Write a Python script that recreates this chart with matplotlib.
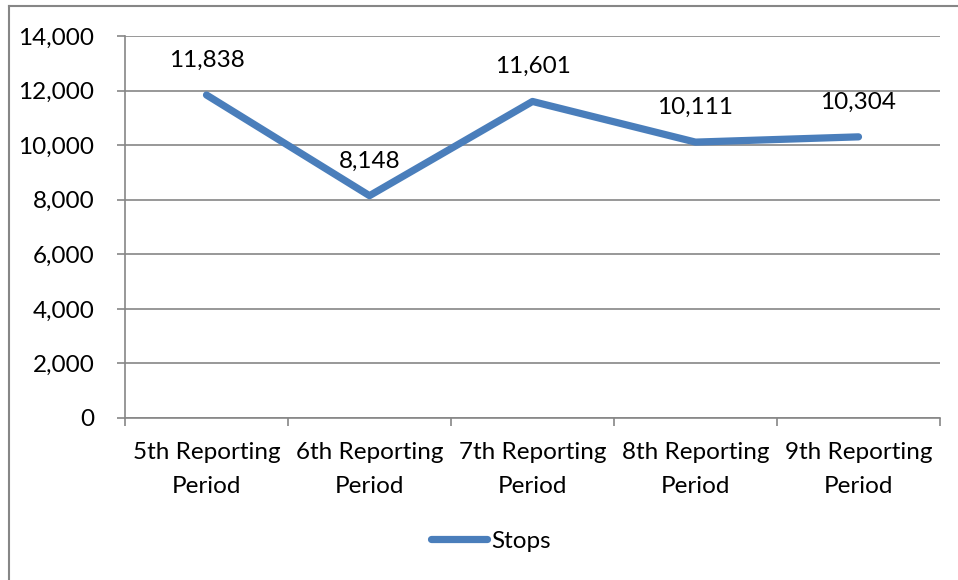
import matplotlib.pyplot as plt
from matplotlib.lines import Line2D
from matplotlib.ticker import FuncFormatter

categories = ["5th Reporting\nPeriod", "6th Reporting\nPeriod", "7th Reporting\nPeriod",
              "8th Reporting\nPeriod", "9th Reporting\nPeriod"]
stops = [11838, 8148, 11601, 10111, 10304]

W, H = 958, 580
blue = "#4A7EBB"
grey = "#868686"
fs = 17.5

plt.rcParams['font.family'] = ['Lato', 'DejaVu Sans']

fig = plt.figure(figsize=(W / 100, H / 100), dpi=100)
# plot area in pixel coords: x 125..940, y 36..418
ax = fig.add_axes([125 / W, 1 - 418 / H, (940 - 125) / W, (418 - 36) / H])

x = list(range(len(categories)))
ax.plot(x, stops, color=blue, lw=5.2, solid_capstyle='round', solid_joinstyle='round',
        label="Stops", zorder=3)
for xi, v in zip(x, stops):
    ax.annotate(f"{v:,}", (xi, v), xytext=(0, 25), textcoords='offset points',
                ha='center', va='center', fontsize=fs, color='black')

ax.set_xlim(-0.5, len(categories) - 0.5)
ax.set_ylim(0, 14000)
ax.set_yticks(range(0, 14001, 2000))
ax.yaxis.set_major_formatter(FuncFormatter(lambda v, p: f"{int(v):,}"))
ax.set_xticks([i - 0.5 for i in range(len(categories) + 1)], minor=False)
ax.set_xticklabels([])
ax.set_xticks(x, minor=True)
ax.set_xticklabels(categories, minor=True, fontsize=fs, linespacing=1.78)
ax.tick_params(axis='x', which='major', length=6, color=grey, width=1.2, direction='out')
ax.tick_params(axis='x', which='minor', length=0, pad=17)
ax.tick_params(axis='y', length=6, color=grey, width=1.2, labelsize=fs, pad=16)

ax.grid(axis='y', color=grey, lw=1.2)
ax.set_axisbelow(True)
for s in ['top', 'right']:
    ax.spines[s].set_visible(False)
for s in ['left', 'bottom']:
    ax.spines[s].set_color(grey)
    ax.spines[s].set_linewidth(1.2)

leg = fig.legend(handles=[Line2D([], [], color=blue, lw=5.2, solid_capstyle='round')],
                 labels=["Stops"], loc='center', bbox_to_anchor=(491 / W, 1 - 541 / H),
                 frameon=False, fontsize=fs, handlelength=2.3, handletextpad=0.15)

# outer chart frame
fig.add_artist(Line2D([9 / W, 9 / W], [0, 1 - 6 / H], color=grey, lw=1.5, transform=fig.transFigure))
fig.add_artist(Line2D([9 / W, 1], [1 - 6 / H, 1 - 6 / H], color=grey, lw=1.5, transform=fig.transFigure))

fig.savefig("out.png", dpi=100)
